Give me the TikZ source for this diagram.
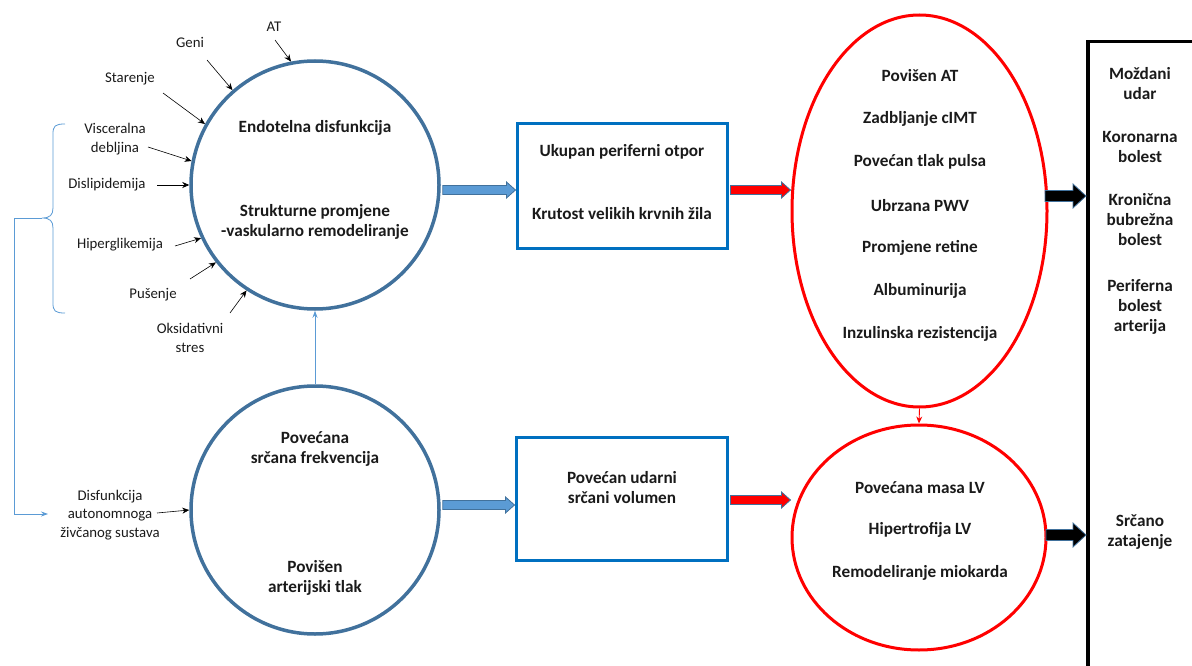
\documentclass[tikz,border=0pt]{standalone}
\usepackage{fontspec}
\setmainfont{Carlito}
\usetikzlibrary{arrows.meta,shapes.geometric,calc}
\definecolor{cblue}{HTML}{41719C}
\definecolor{bblue}{HTML}{0070C0}
\definecolor{lblue}{HTML}{5B9BD5}
\definecolor{txt}{HTML}{1A1A1A}
\newcommand{\harrow}[7]{%
  \filldraw[fill=#3,draw=#4,line width=0.8pt] let \p1=(#1),\p2=(#2) in
  (\x1,\y1+#5) -- (\x2-#7,\y1+#5) -- (\x2-#7,\y1+#6) -- (\x2,\y1) --
  (\x2-#7,\y1-#6) -- (\x2-#7,\y1-#5) -- (\x1,\y1-#5) -- cycle;}
\begin{document}
\begin{tikzpicture}[x=1pt,y=-1pt,
  bigcirc/.style={circle,draw=cblue,line width=3.5pt,minimum size=248pt,inner sep=0pt},
  box/.style={rectangle,draw=bblue,line width=3pt,inner sep=0pt},
  redell/.style={ellipse,draw=red,line width=3pt,inner sep=0pt},
  bl/.style={font=\fontsize{17.2}{20}\selectfont\bfseries,text=txt,align=center,inner sep=0pt},
  sl/.style={font=\fontsize{14.8}{18.8}\selectfont,text=txt,align=center,inner sep=0pt},
  thinarr/.style={-{Stealth[length=7pt,width=6pt]},line width=0.6pt,black},
]
\useasboundingbox (0,0) rectangle (1192,666);

% main shapes
\node[bigcirc] (c1) at (315,185) {};
\node[bigcirc] (c2) at (315,510) {};
\node[box,minimum width=210pt,minimum height=124pt] (b1) at (622,186) {};
\node[box,minimum width=211pt,minimum height=123pt] (b2) at (621.5,498.5) {};
\node[redell,minimum width=255pt,minimum height=392pt] (e1) at (919.5,211) {};
\node[redell,minimum width=254pt,minimum height=225pt] (e2) at (919,537.5) {};
\begin{scope}
  \clip (0,0) rectangle (1192,666);
  \node[draw=black,line width=3.5pt,minimum width=140pt,minimum height=680pt,inner sep=0pt,anchor=north west] (ob) at (1086,40) {};
\end{scope}

% texts in shapes
\node[bl] (t1) at (315,128) {Endotelna disfunkcija};
\node[bl] (t2) at (315,222) {Strukturne promjene\\-vaskularno remodeliranje};
\node[bl] (t3) at (315,449) {Povećana\\srčana frekvencija};
\node[bl] (t4) at (315,578) {Povišen\\arterijski tlak};
\node[bl] (t5) at (622,152) {Ukupan periferni otpor};
\node[bl] (t6) at (622,214) {Krutost velikih krvnih žila};
\node[bl] (t7) at (622,488) {Povećan udarni\\srčani volumen};
\node[bl] (e1a) at (920,76) {Povišen AT};
\node[bl] (e1b) at (920,119) {Zadbljanje cIMT};
\node[bl] (e1c) at (920,162) {Povećan tlak pulsa};
\node[bl] (e1d) at (920,206) {Ubrzana PWV};
\node[bl] (e1e) at (920,248) {Promjene retine};
\node[bl] (e1f) at (920,291) {Albuminurija};
\node[bl] (e1g) at (920,334) {Inzulinska rezistencija};
\node[bl] (e2a) at (920,488) {Povećana masa LV};
\node[bl] (e2b) at (920,530) {Hipertrofija LV};
\node[bl] (e2c) at (920,573) {Remodeliranje miokarda};
\node[bl] (o1) at (1140,84) {Moždani\\udar};
\node[bl] (o2) at (1140,147) {Koronarna\\bolest};
\node[bl] (o3) at (1140,220) {Kronična\\bubrežna\\bolest};
\node[bl] (o4) at (1140,307) {Periferna\\bolest\\arterija};
\node[bl] (o5) at (1140,532) {Srčano\\zatajenje};

% factor labels
\node[sl] (at) at (274,27) {AT};
\node[sl] (geni) at (190,42) {Geni};
\node[sl] (star) at (130,79) {Starenje};
\node[sl] (visc) at (115,139.5) {Visceralna\\debljina};
\node[sl] (disl) at (107,185) {Dislipidemija};
\node[sl] (hip) at (120,245) {Hiperglikemija};
\node[sl] (pus) at (153,295) {Pušenje};
\node[sl] (oks) at (190,338) {Oksidativni\\stres};
\node[sl] (dan) at (110,515) {Disfunkcija\\autonomnoga\\živčanog sustava};

% factor arrows
\coordinate (sAT) at (275,40);
\coordinate (sGe) at (207,60);
\coordinate (sSt) at (163,93);
\coordinate (sVi) at (148,147);
\coordinate (sDi) at (157,185);
\coordinate (sHi) at (175,246);
\coordinate (sPu) at (190,279);
\coordinate (sOk) at (230,313);
\coordinate (sDa) at (157,513);
\draw[thinarr] (sAT) -- (c1.101.5);
\draw[thinarr] (sGe) -- (c1.131.7);
\draw[thinarr] (sSt) -- (c1.151);
\draw[thinarr] (sVi) -- (c1.169);
\draw[thinarr] (sDi) -- (c1.180);
\draw[thinarr] (sHi) -- (c1.205);
\draw[thinarr] (sPu) -- (c1.218);
\draw[thinarr] (sOk) -- (c1.237);
\draw[thinarr] (sDa) -- (c2.180);

% brace and autonomic feedback line
\coordinate (brT) at (65,124);
\coordinate (brB) at (65,313);
\coordinate (brM) at (42,218);
\coordinate (fbL) at (14,218);
\coordinate (fbB) at (14,514);
\coordinate (fbE) at (48,514);
\draw[lblue,line width=0.8pt] (brT) .. controls (55,124) and (53,126) .. (53,134)
  -- (53,208) .. controls (53,215) and (50,218) .. (brM)
  .. controls (50,218) and (53,221) .. (53,228) -- (53,303)
  .. controls (53,311) and (55,313) .. (brB);
\draw[lblue,line width=0.8pt,-{Stealth[length=7pt,width=5pt]}] (brM) -- (fbL) -- (fbB) -- (fbE);

% vertical link between circles
\draw[lblue,line width=0.9pt,-{Stealth[length=7pt,width=5pt]}] (c2.north) -- (c1.south);
% link between ellipses
\draw[red,line width=0.9pt,-{Stealth[length=7pt,width=6pt]}] (e1.south) -- (e2.north);

% block arrows
\harrow{[xshift=2pt,yshift=-5pt]c1.east}{b1.west |- 0,190}{lblue}{cblue}{4.5pt}{8pt}{9pt}
\harrow{[xshift=2pt,yshift=5pt]c2.east}{b2.west |- 0,505}{lblue}{cblue}{4.5pt}{8pt}{9pt}
\harrow{[xshift=2pt,yshift=-4pt]b1.east}{e1.west |- 0,190}{red}{cblue}{4.5pt}{8pt}{9pt}
\harrow{[xshift=2pt,yshift=-1.5pt]b2.east}{e2.west |- 0,500}{red}{cblue}{4.5pt}{8pt}{9pt}
\harrow{1045,196}{ob.west |- 0,196}{black}{cblue}{5.5pt}{12pt}{13pt}
\harrow{1046,535}{ob.west |- 0,535}{black}{cblue}{5.5pt}{12pt}{13pt}
\end{tikzpicture}
\end{document}
